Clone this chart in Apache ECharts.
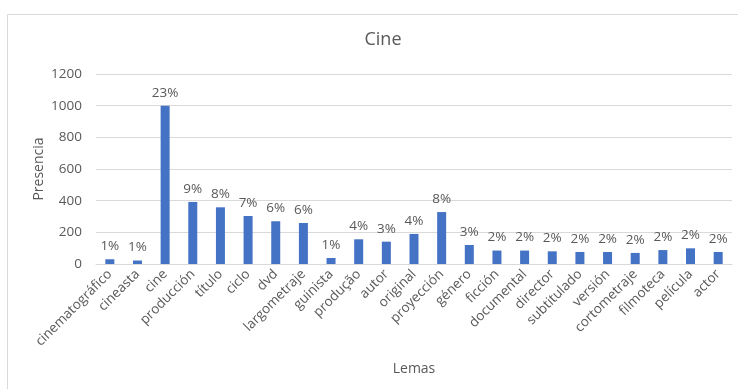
<!DOCTYPE html>
<html>
<head>
<meta charset="utf-8">
<script src="https://cdn.jsdelivr.net/npm/echarts@6/dist/echarts.min.js"></script>
<style>
  html, body { margin: 0; padding: 0; background: #fff; }
  #chart { width: 738px; height: 389px; }
</style>
</head>
<body>
<div id="chart"></div>
<script>
// Lemas y su presencia en el corpus
const categories = ['cinematográfico', 'cineasta', 'cine', 'producción', 'título', 'ciclo', 'dvd',
  'largometraje', 'guinista', 'produção', 'autor', 'original', 'proyección', 'género', 'ficción',
  'documental', 'director', 'subtitulado', 'versión', 'cortometraje', 'filmoteca', 'película', 'actor'];
const presencia = [30, 22, 1000, 392, 358, 303, 270, 259, 38, 156, 141, 190, 328, 120, 85,
  85, 80, 76, 76, 70, 88, 99, 76];
const yTicks = { min: 0, max: 1200, interval: 200 };

const total = presencia.reduce((a, b) => a + b, 0);
const textColor = '#595959';
const font = 'Open Sans';

const chart = echarts.init(document.getElementById('chart'), null, { renderer: 'canvas' });
chart.setOption({
  animation: false,
  backgroundColor: '#ffffff',
  title: {
    text: 'Cine',
    left: 378,
    top: 26,
    textAlign: 'center',
    textStyle: { fontFamily: font, fontSize: 18, fontWeight: 'normal', color: textColor }
  },
  graphic: [{
    type: 'rect',
    shape: { x: 7.5, y: 14.5, width: 760, height: 400 },
    style: { fill: 'none', stroke: '#d9d9d9', lineWidth: 1 },
    silent: true,
    z: -1
  }],
  grid: { left: 96, right: 6, top: 74, bottom: 125, containLabel: false },
  xAxis: {
    type: 'category',
    data: categories,
    name: 'Lemas',
    nameLocation: 'middle',
    nameGap: 98,
    nameMoveOverlap: false,
    nameTextStyle: { fontFamily: font, fontSize: 14, color: textColor },
    axisLine: { lineStyle: { color: '#d9d9d9' } },
    axisTick: { show: false },
    axisLabel: {
      interval: 0,
      rotate: 45,
      margin: 8,
      fontFamily: font,
      fontSize: 13.5,
      color: textColor
    }
  },
  yAxis: {
    type: 'value',
    min: yTicks.min,
    max: yTicks.max,
    interval: yTicks.interval,
    name: 'Presencia',
    nameLocation: 'middle',
    nameGap: 50,
    nameMoveOverlap: false,
    nameRotate: 90,
    nameTextStyle: { fontFamily: font, fontSize: 14, color: textColor },
    axisLine: { show: false },
    axisTick: { show: false },
    axisLabel: {
      margin: 14,
      fontFamily: font,
      fontSize: 13.5,
      color: textColor,
      formatter: v => String(v)
    },
    splitLine: { lineStyle: { color: '#d9d9d9' } }
  },
  series: [{
    type: 'bar',
    data: presencia,
    barWidth: 9,
    itemStyle: { color: '#4472C4' },
    label: {
      show: true,
      position: 'top',
      distance: 6,
      fontFamily: font,
      fontSize: 13.5,
      color: textColor,
      formatter: p => Math.round(p.value / total * 100) + '%'
    }
  }]
});
</script>
</body>
</html>
